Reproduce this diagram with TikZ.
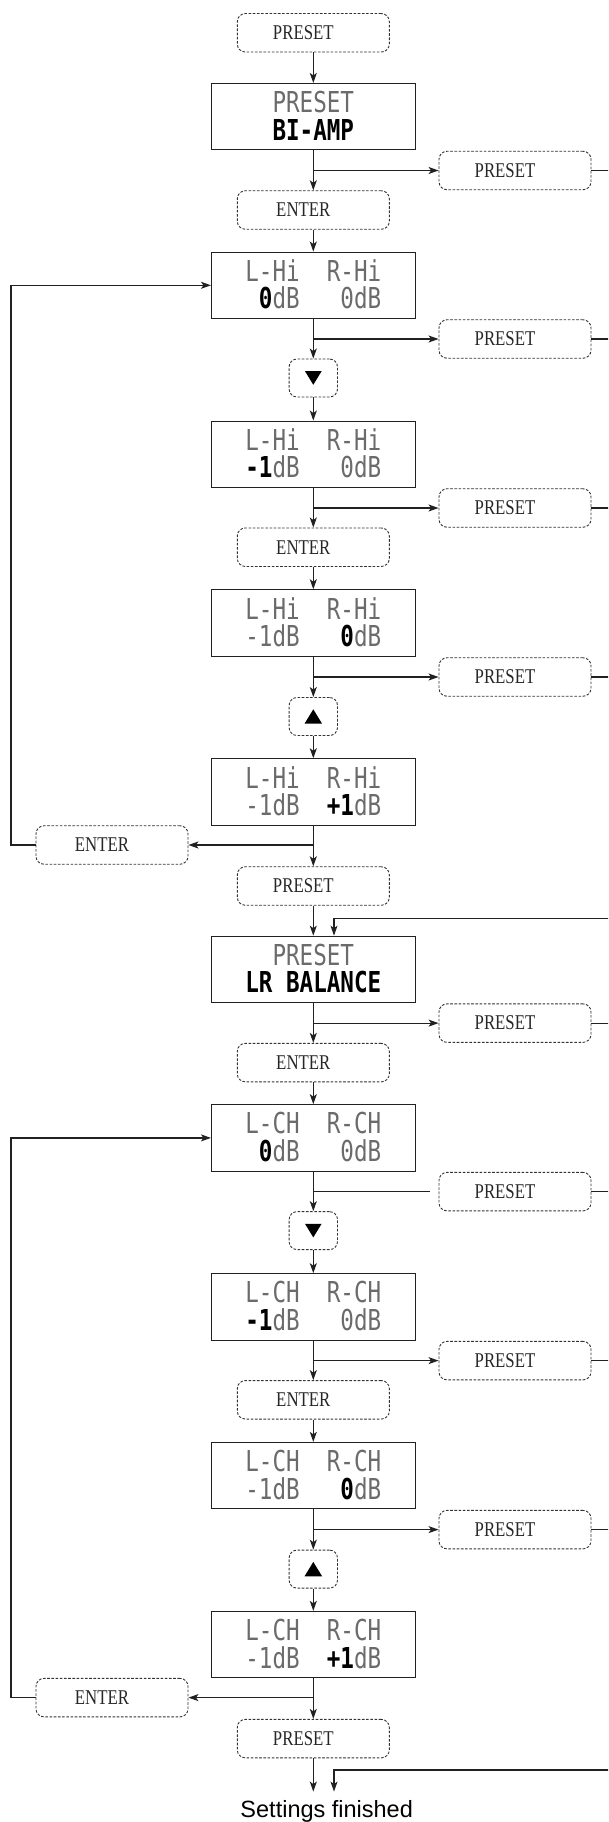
\documentclass[tikz,border=0pt]{standalone}
\usepackage{fontspec}
\usepackage{graphicx}
\usetikzlibrary{arrows.meta}
\newfontfamily\lcdfont{DejaVu Sans Mono}
\newfontfamily\lblfont{Liberation Serif}
\newfontfamily\finfont{Liberation Sans}
\definecolor{lcdgray}{gray}{0.42}
\definecolor{ink}{gray}{0.13}
\newcommand\hl[1]{{\bfseries\color{black}#1}}
\newcommand\lcd[2]{\scalebox{0.784}[1]{\lcdfont\fontsize{28.8}{27.5}\selectfont\color{lcdgray}\begin{tabular}{@{}c@{}}\rule{0pt}{27.75pt}#1\\\smash{#2}\end{tabular}}}
\newcommand\lbl[1]{\makebox[0pt]{\hspace*{-20pt}\scalebox{0.8}[1]{\lblfont\fontsize{21}{21}\selectfont #1}}}
\tikzset{
 lcdbox/.style={draw=ink, line width=1.1pt, minimum width=203.6pt, minimum height=66.4pt, inner sep=0pt},
 keybox/.style={draw=black!80, line width=0.9pt, dash pattern=on 2.6pt off 1.6pt, rounded corners=8pt, minimum width=152pt, minimum height=38.5pt, inner sep=0pt, text=black!85},
 tribox/.style={keybox, minimum width=48.4pt, minimum height=38pt},
 conn/.style={draw=ink, line width=1.2pt},
 arr/.style={conn, -{Stealth[length=10pt,width=7pt,inset=2.5pt]}},
}
\begin{document}
\begin{tikzpicture}[x=1pt,y=-1pt]
\useasboundingbox (0,0) rectangle (608,1822);
\clip (0,0) rectangle (608,1822);
% ---------- group 1 ----------
\node[keybox] (p0) at (313.3,32.8) {\lbl{PRESET}};
\node[lcdbox] (b1) at (313.3,116.7) {\lcd{PRESET}{\hl{BI-AMP}}};
\node[keybox] (r1) at (515,170.5) {\lbl{PRESET}};
\node[keybox] (e1) at (313.3,210) {\lbl{ENTER}};
\node[lcdbox] (b2) at (313.3,285.3) {\lcd{L-Hi~~R-Hi}{~\hl{0}dB~~~0dB}};
\node[keybox] (r2) at (515,339) {\lbl{PRESET}};
\node[tribox] (d1) at (313.3,378) {};
\node[lcdbox] (b3) at (313.3,454.3) {\lcd{L-Hi~~R-Hi}{\hl{-1}dB~~~0dB}};
\node[keybox] (r3) at (515,508) {\lbl{PRESET}};
\node[keybox] (e2) at (313.3,547.2) {\lbl{ENTER}};
\node[lcdbox] (b4) at (313.3,623) {\lcd{L-Hi~~R-Hi}{-1dB~~~\hl{0}dB}};
\node[keybox] (r4) at (515,677) {\lbl{PRESET}};
\node[tribox] (u1) at (313.3,716.5) {};
\node[lcdbox] (b5) at (313.3,792) {\lcd{L-Hi~~R-Hi}{-1dB~~\hl{+1}dB}};
\node[keybox] (l1) at (112,845) {\lbl{ENTER}};
\node[keybox] (p1) at (313.3,886) {\lbl{PRESET}};
\coordinate (busA) at (640,918.3);
\coordinate (inA) at (334,918.3);
\coordinate (loopA) at (11,845);
% ---------- group 2 ----------
\node[lcdbox] (b6) at (313.3,969.4) {\lcd{PRESET}{\hl{LR~BALANCE}}};
\node[keybox] (r5) at (515,1023.1) {\lbl{PRESET}};
\node[keybox] (e3) at (313.3,1062.6) {\lbl{ENTER}};
\node[lcdbox] (b7) at (313.3,1137.9) {\lcd{L-CH~~R-CH}{~\hl{0}dB~~~0dB}};
\node[keybox] (r6) at (515,1191.6) {\lbl{PRESET}};
\node[tribox] (d2) at (313.3,1230.6) {};
\node[lcdbox] (b8) at (313.3,1306.9) {\lcd{L-CH~~R-CH}{\hl{-1}dB~~~0dB}};
\node[keybox] (r7) at (515,1360.6) {\lbl{PRESET}};
\node[keybox] (e4) at (313.3,1399.8) {\lbl{ENTER}};
\node[lcdbox] (b9) at (313.3,1475.6) {\lcd{L-CH~~R-CH}{-1dB~~~\hl{0}dB}};
\node[keybox] (r8) at (515,1529.6) {\lbl{PRESET}};
\node[tribox] (u2) at (313.3,1569.1) {};
\node[lcdbox] (b10) at (313.3,1644.6) {\lcd{L-CH~~R-CH}{-1dB~~\hl{+1}dB}};
\node[keybox] (l2) at (112,1697.6) {\lbl{ENTER}};
\node[keybox] (p2) at (313.3,1738.6) {\lbl{PRESET}};
\node[anchor=base, inner xsep=0pt, inner ysep=8.5pt, text=black, font=\finfont\fontsize{23.5}{23.5}\selectfont] (fin) at (326.7,1817.3) {Settings finished};
\coordinate (busB) at (640,1770);
\coordinate (inB) at (334,1770);
\coordinate (loopB) at (11,1697.6);
\coordinate (r6gap) at (429.5,1191.6);
% triangles
\foreach \n in {d1,d2} \fill[black] ([shift={(-8.3,-6.8)}]\n.center) -- ([shift={(8.3,-6.8)}]\n.center) -- ([shift={(0,6.8)}]\n.center) -- cycle;
\foreach \n in {u1,u2} \fill[black] ([shift={(-8.8,7.2)}]\n.center) -- ([shift={(8.8,7.2)}]\n.center) -- ([shift={(0,-7.2)}]\n.center) -- cycle;
% ---------- connectors group 1 ----------
\draw[arr] (p0) -- (b1);
\draw[arr] (b1) -- (e1);
\draw[arr] (b1.south |- r1.west) -- (r1.west);
\draw[arr] (e1) -- (b2);
\draw[arr] (b2) -- (d1);
\draw[arr] (b2.south |- r2.west) -- (r2.west);
\draw[arr] (d1) -- (b3);
\draw[arr] (b3) -- (e2);
\draw[arr] (b3.south |- r3.west) -- (r3.west);
\draw[arr] (e2) -- (b4);
\draw[arr] (b4) -- (u1);
\draw[arr] (b4.south |- r4.west) -- (r4.west);
\draw[arr] (u1) -- (b5);
\draw[arr] (b5) -- (p1);
\draw[arr] (b5.south |- l1.east) -- (l1.east);
\draw[arr] (l1.west) -- (loopA) |- (b2.west);
\draw[arr] (p1) -- (b6);
\foreach \r in {r1,r2,r3,r4} \draw[conn] (\r.east) -| (busA);
\draw[arr] (busA) -- (inA) -- (inA |- b6.north);
% ---------- connectors group 2 ----------
\draw[arr] (b6) -- (e3);
\draw[arr] (b6.south |- r5.west) -- (r5.west);
\draw[arr] (e3) -- (b7);
\draw[arr] (b7) -- (d2);
\draw[conn] (b7.south |- r6.west) -- (r6gap);
\draw[arr] (d2) -- (b8);
\draw[arr] (b8) -- (e4);
\draw[arr] (b8.south |- r7.west) -- (r7.west);
\draw[arr] (e4) -- (b9);
\draw[arr] (b9) -- (u2);
\draw[arr] (b9.south |- r8.west) -- (r8.west);
\draw[arr] (u2) -- (b10);
\draw[arr] (b10) -- (p2);
\draw[arr] (b10.south |- l2.east) -- (l2.east);
\draw[arr] (l2.west) -- (loopB) |- (b7.west);
\draw[arr] (p2) -- (p2.south |- fin.north);
\foreach \r in {r5,r6,r7,r8} \draw[conn] (\r.east) -| (busB);
\draw[arr] (busB) -- (inB) -- (inB |- fin.north);
\end{tikzpicture}
\end{document}
